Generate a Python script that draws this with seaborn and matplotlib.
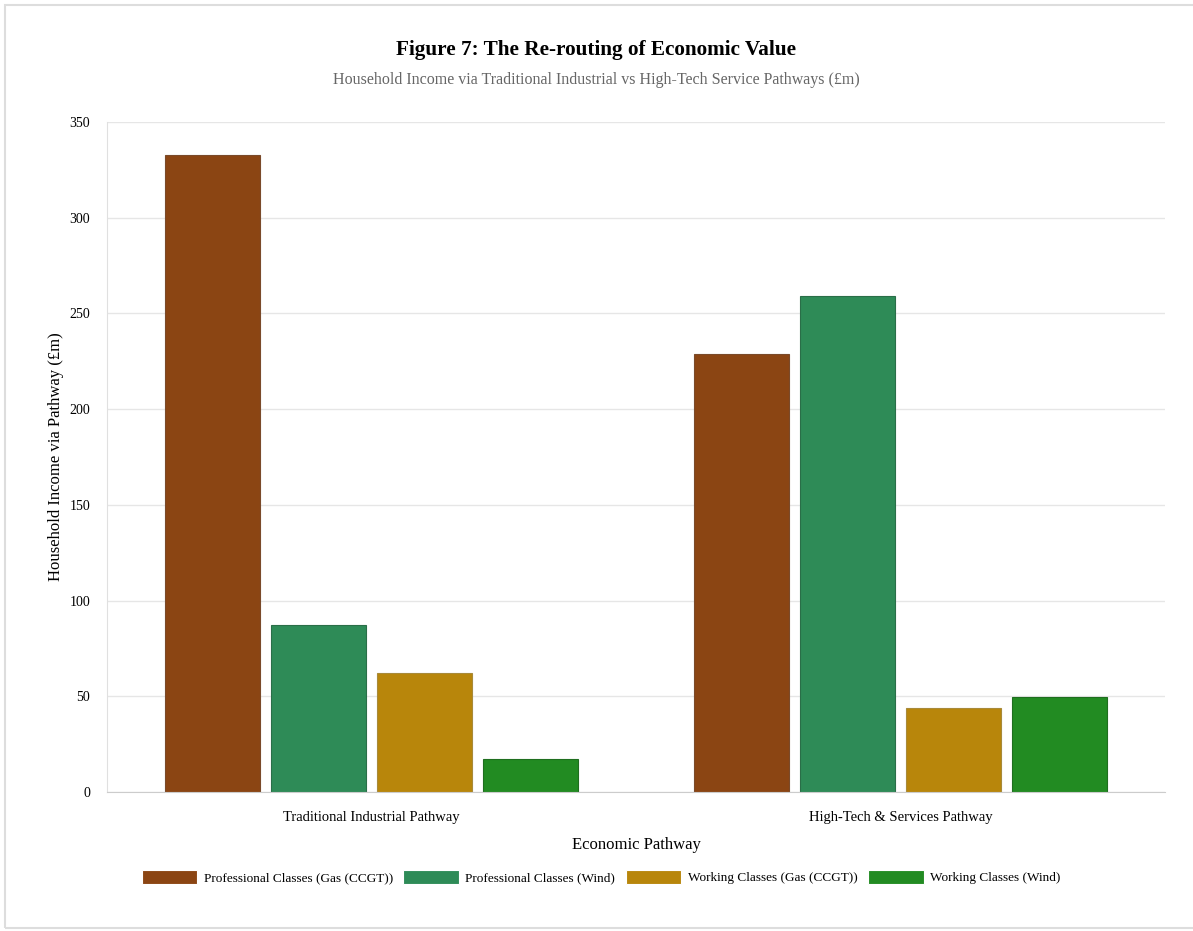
import matplotlib
matplotlib.use("Agg")
import matplotlib.pyplot as plt
import seaborn as sns
import pandas as pd
from matplotlib.patches import Rectangle

pathways = ["Traditional Industrial Pathway", "High-Tech & Services Pathway"]
groups = ["Professional Classes (Gas (CCGT))", "Professional Classes (Wind)",
          "Working Classes (Gas (CCGT))", "Working Classes (Wind)"]
prof_gas = [333, 229]
prof_wind = [87, 259]
work_gas = [62, 44]
work_wind = [17, 49.5]
colours = ["#8B4513", "#2E8B57", "#B8860B", "#228B22"]
edges = ["#7a4a2a", "#2a6e48", "#a88a3a", "#1f6e1f"]

rows = []
for g, vals in zip(groups, [prof_gas, prof_wind, work_gas, work_wind]):
    for p, v in zip(pathways, vals):
        rows.append({"Pathway": p, "Group": g, "Value": v})
df = pd.DataFrame(rows)

sns.set_style("white")
plt.rcParams['font.family'] = ['Liberation Serif', 'DejaVu Serif']
plt.rcParams['text.color'] = 'black'
plt.rcParams['axes.labelcolor'] = 'black'
plt.rcParams['xtick.color'] = 'black'
plt.rcParams['ytick.color'] = 'black'

fig = plt.figure(figsize=(11.93, 9.31), dpi=100)
ax = fig.add_axes([107 / 1193, 1 - 792 / 931, (1165 - 107) / 1193, (792 - 122) / 931])

sns.barplot(data=df, x="Pathway", y="Value", hue="Group", order=pathways,
            hue_order=groups, palette=colours, saturation=1, gap=0.1, width=0.8,
            linewidth=0.8, ax=ax, legend=True)
for container, ec in zip(ax.containers, edges):
    for bar in container:
        bar.set_edgecolor(ec)

ax.set_xlim(-0.5, 1.5)
ax.set_ylim(0, 350)
ax.set_yticks(range(0, 351, 50))
ax.yaxis.grid(True, color="#e6e6e6", linewidth=1)
ax.set_axisbelow(True)
for s in ["top", "right"]:
    ax.spines[s].set_visible(False)
ax.spines["left"].set_color("#e0e0e0")
ax.spines["bottom"].set_color("#cccccc")
ax.tick_params(axis="y", length=8, color="#e0e0e0", labelsize=10, pad=4)
ax.tick_params(axis="x", length=0, labelsize=10.5, pad=14)

ax.set_xlabel("Economic Pathway", fontsize=12, labelpad=9)
ax.set_ylabel("Household Income via Pathway (£m)", fontsize=12, labelpad=4)

handles, labels = ax.get_legend_handles_labels()
ax.legend_.remove()
fig.legend(handles, labels, loc="center", bbox_to_anchor=(601 / 1193, 1 - 877 / 931),
           ncol=4, frameon=False, fontsize=9.5, handlelength=4.2,
           handleheight=1.3, columnspacing=0.8, handletextpad=0.5)

fig.text(0.5, 1 - 50 / 931, "Figure 7: The Re-routing of Economic Value",
         ha="center", va="center", fontsize=15.3, fontweight="bold")
fig.text(0.5, 1 - 80 / 931,
         "Household Income via Traditional Industrial vs High-Tech Service Pathways (£m)",
         ha="center", va="center", fontsize=11.5, color="#666666")

fig.patches.append(Rectangle((5 / 1193, 3 / 931), 1.2, 1 - 8 / 931,
                             transform=fig.transFigure, fill=False,
                             edgecolor="#dddddd", linewidth=1.5))

fig.savefig("out.png", dpi=100)
